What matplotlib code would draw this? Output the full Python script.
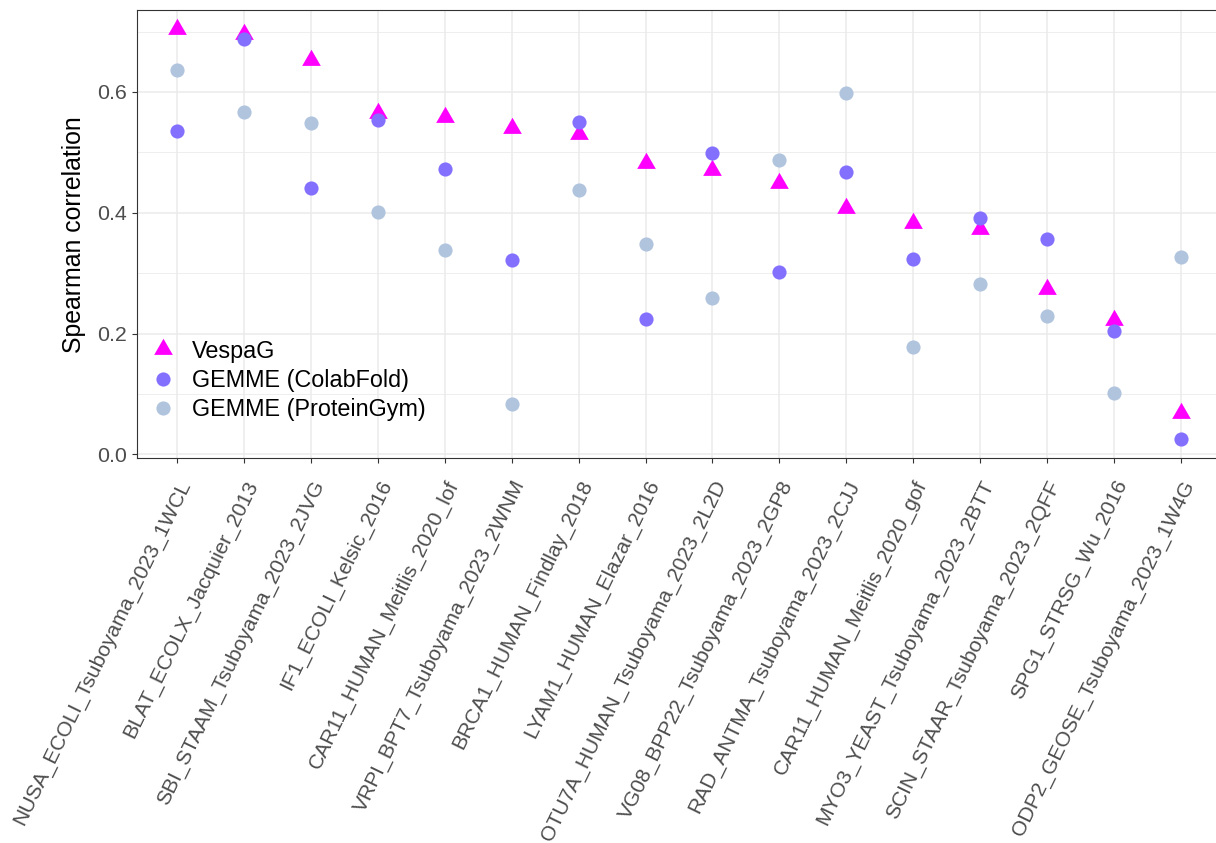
import matplotlib
matplotlib.use("Agg")
import matplotlib.pyplot as plt
from matplotlib.path import Path
import numpy as np

plt.rcParams['font.family'] = ['Liberation Sans', 'DejaVu Sans']

datasets = [
    "NUSA_ECOLI_Tsuboyama_2023_1WCL",
    "BLAT_ECOLX_Jacquier_2013",
    "SBI_STAAM_Tsuboyama_2023_2JVG",
    "IF1_ECOLI_Kelsic_2016",
    "CAR11_HUMAN_Meitlis_2020_lof",
    "VRPI_BPT7_Tsuboyama_2023_2WNM",
    "BRCA1_HUMAN_Findlay_2018",
    "LYAM1_HUMAN_Elazar_2016",
    "OTU7A_HUMAN_Tsuboyama_2023_2L2D",
    "VG08_BPP22_Tsuboyama_2023_2GP8",
    "RAD_ANTMA_Tsuboyama_2023_2CJJ",
    "CAR11_HUMAN_Meitlis_2020_gof",
    "MYO3_YEAST_Tsuboyama_2023_2BTT",
    "SCIN_STAAR_Tsuboyama_2023_2QFF",
    "SPG1_STRSG_Wu_2016",
    "ODP2_GEOSE_Tsuboyama_2023_1W4G",
]

vespag = [0.704, 0.696, 0.652, 0.565, 0.558, 0.541, 0.530, 0.482, 0.471,
          0.450, 0.407, 0.383, 0.373, 0.273, 0.223, 0.069]
gemme_colabfold = [0.536, 0.687, 0.441, 0.553, 0.473, 0.322, 0.551, 0.224, 0.499,
                   0.302, 0.467, 0.324, 0.392, 0.356, 0.204, 0.025]
gemme_proteingym = [0.637, 0.566, 0.549, 0.401, 0.338, 0.083, 0.438, 0.348, 0.258,
                    0.487, 0.598, 0.178, 0.282, 0.229, 0.101, 0.327]

series_labels = ["VespaG", "GEMME (ColabFold)", "GEMME (ProteinGym)"]
colors = ["#FF00FF", "#8470FF", "#B0C4DE"]

W, H = 1216, 843
fig = plt.figure(figsize=(W / 100, H / 100), dpi=100)
left_px, right_px, top_px, bot_px = 137, 1221, 10, 458.3
ax = fig.add_axes([left_px / W, 1 - bot_px / H, (right_px - left_px) / W, (bot_px - top_px) / H])

tri = Path([(0, 1), (-0.8660254, -0.5), (0.8660254, -0.5), (0, 1)],
           [Path.MOVETO, Path.LINETO, Path.LINETO, Path.CLOSEPOLY])

x = np.arange(len(datasets))
ax.plot(x, vespag, linestyle='none', marker=tri, markersize=15.5,
        color=colors[0], markeredgewidth=0, label=series_labels[0], zorder=3)
ax.plot(x, gemme_colabfold, linestyle='none', marker='o', markersize=10.2,
        color=colors[1], markeredgewidth=0, label=series_labels[1], zorder=4)
ax.plot(x, gemme_proteingym, linestyle='none', marker='o', markersize=10.2,
        color=colors[2], markeredgewidth=0, label=series_labels[2], zorder=5)

ax.set_xlim(-0.6, len(datasets) - 1 + 0.6)
ax.set_ylim(-0.0066, 0.7356)

ax.set_yticks([0.0, 0.2, 0.4, 0.6])
ax.set_yticklabels(["0.0", "0.2", "0.4", "0.6"])
ax.set_yticks([0.1, 0.3, 0.5, 0.7], minor=True)
ax.set_xticks(x)
ax.set_xticklabels(datasets, rotation=64, ha='right', va='top',
                   rotation_mode='anchor', fontsize=15.1)

ax.grid(True, which='major', color='#EBEBEB', linewidth=1.1, zorder=0)
ax.grid(True, which='minor', axis='y', color='#EBEBEB', linewidth=0.6, zorder=0)
ax.set_axisbelow(True)

ax.tick_params(axis='y', which='major', length=3.6, width=0.8, color='#333333',
               labelsize=15.4, labelcolor='#4D4D4D', pad=3.5)
ax.tick_params(axis='x', which='major', length=3.6, width=0.8, color='#333333',
               labelcolor='#4D4D4D', pad=10)
ax.tick_params(axis='both', which='minor', length=0)
for s in ax.spines.values():
    s.set_color('#333333')
    s.set_linewidth(0.8)

ax.set_ylabel("Spearman correlation", fontsize=17.9, color='black', labelpad=8)

leg = ax.legend(loc='upper left', bbox_to_anchor=(0.0132, 0.2648), frameon=False,
                fontsize=16.8, handlelength=1.0, handletextpad=0.74,
                borderpad=0, borderaxespad=0, labelspacing=0.27, numpoints=1)

fig.savefig("out.png", dpi=100)
